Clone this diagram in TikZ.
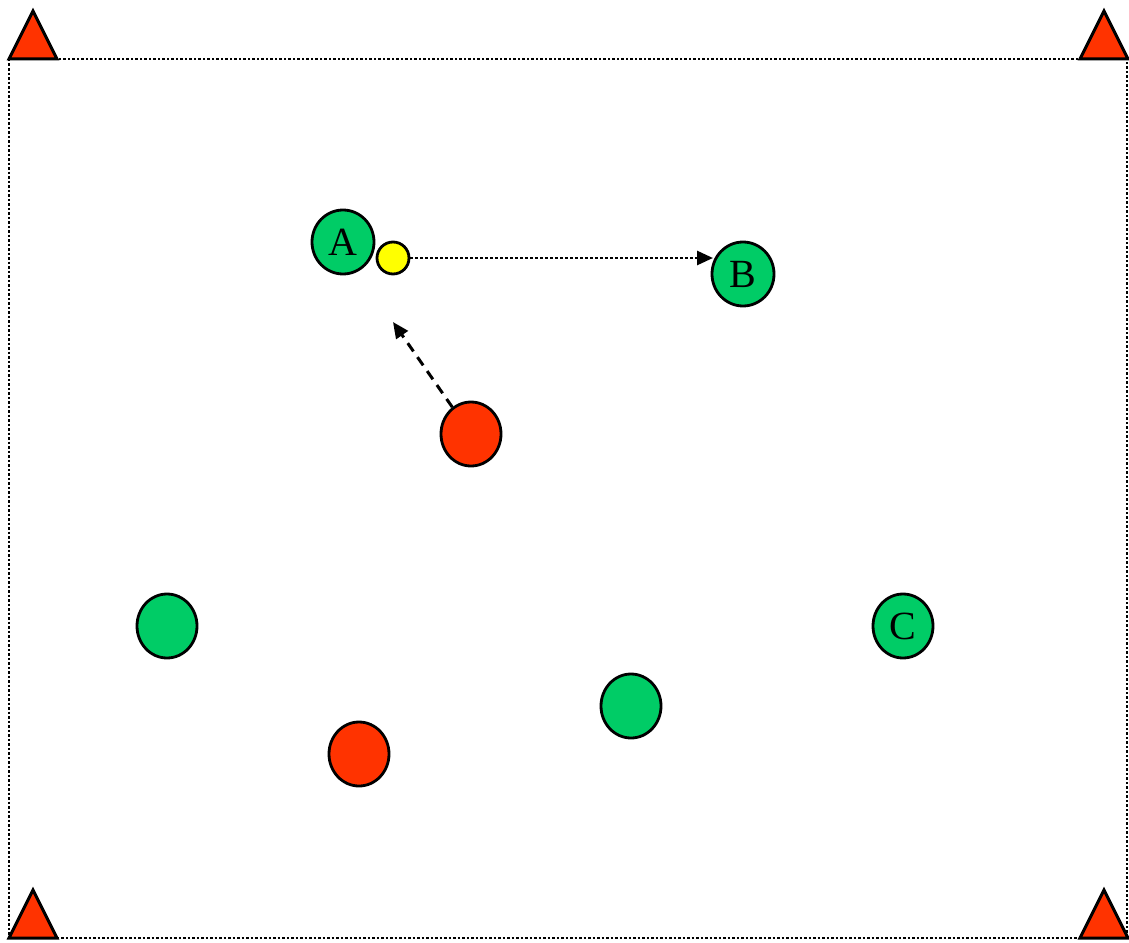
\documentclass[tikz,border=0pt]{standalone}
\usepackage{fontspec}
\setmainfont{Liberation Serif}
\usetikzlibrary{shapes.geometric,arrows.meta}
\definecolor{pgreen}{RGB}{0,204,102}
\definecolor{pred}{RGB}{255,51,0}
\definecolor{pyellow}{RGB}{255,255,0}
\begin{document}
\begin{tikzpicture}[x=1pt,y=-1pt,
  player/.style={ellipse,draw=black,line width=2.8pt,minimum width=60pt,minimum height=64pt,inner sep=0pt,
    font=\fontsize{40}{48}\selectfont},
  gplayer/.style={player,fill=pgreen},
  rplayer/.style={player,fill=pred},
  ball/.style={circle,draw=black,line width=2.8pt,fill=pyellow,minimum size=32pt,inner sep=0pt},
  cone/.style={draw=black,line width=3pt,fill=pred,line join=miter},
  boundary/.style={line width=2.5pt,dash pattern=on 2.5pt off 2pt},
  pass/.style={line width=2.8pt,dash pattern=on 2.5pt off 2.5pt,-{Triangle[length=16pt,width=14pt]}},
  run/.style={line width=3pt,dash pattern=on 10pt off 7pt,-{Triangle[length=16pt,width=14pt]}}]
\useasboundingbox (0,0) rectangle (1129,942);
\draw[boundary] (9,59) rectangle (1127,938);
% cones
\draw[cone] (9,59) -- (57,59) -- (33,11) -- cycle;
\draw[cone] (1080,59) -- (1128,59) -- (1104,11) -- cycle;
\draw[cone] (9,938) -- (57,938) -- (33,890) -- cycle;
\draw[cone] (1080,938) -- (1128,938) -- (1104,890) -- cycle;
% players
\node[gplayer,minimum width=62pt] (A) at (343,242) {A};
\node[ball] (ball) at (393,258) {};
\node[gplayer,minimum width=62pt] (B) at (743,274) {B};
\node[rplayer] (R1) at (471,434) {};
\node[gplayer] (G1) at (167,626) {};
\node[gplayer] (C) at (903,626) {C};
\node[gplayer] (G2) at (631,706) {};
\node[rplayer] (R2) at (359,754) {};
% arrows
\coordinate (passend) at (713,258);
\coordinate (runend) at (393,322);
\draw[pass] (ball.east) -- (passend);
\draw[run] (R1) -- (runend);
\end{tikzpicture}
\end{document}
